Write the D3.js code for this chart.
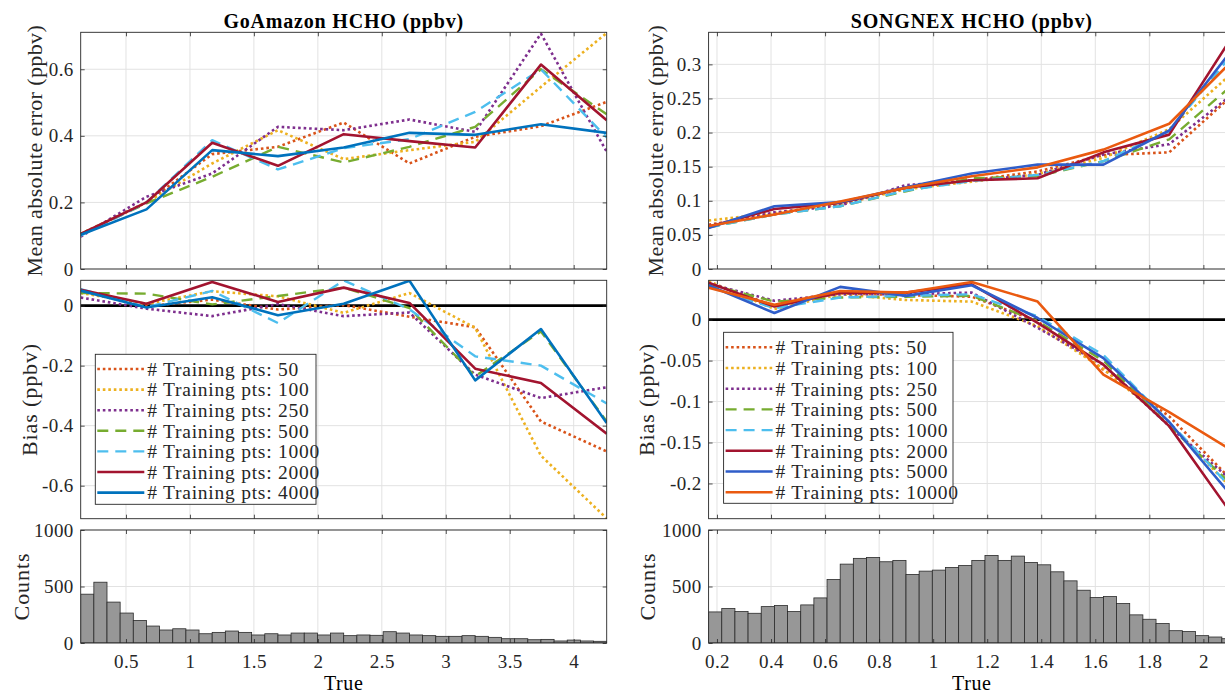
<!DOCTYPE html>
<html><head><meta charset="utf-8">
<script src="https://cdn.jsdelivr.net/npm/d3@7"></script>
<style>
body{margin:0;background:#fff}
svg{display:block}
svg text{font-family:"Liberation Serif","DejaVu Serif","Times New Roman",serif !important;}
</style>
</head><body>
<svg id="c" width="1225" height="693"></svg>
<script>
// ---------------- DATA ----------------
const xLeft  = [0.146, 0.660, 1.174, 1.688, 2.202, 2.716, 3.230, 3.744, 4.258];
const xRight = [0.169, 0.4125, 0.656, 0.8995, 1.143, 1.3865, 1.630, 1.8735, 2.117];

const namesLeft  = ["# Training pts: 50","# Training pts: 100","# Training pts: 250","# Training pts: 500","# Training pts: 1000","# Training pts: 2000","# Training pts: 4000"];
const namesRight = ["# Training pts: 50","# Training pts: 100","# Training pts: 250","# Training pts: 500","# Training pts: 1000","# Training pts: 2000","# Training pts: 5000","# Training pts: 10000"];

// GoAmazon mean absolute error
const maeL50   = [0.105, 0.200, 0.345, 0.367, 0.440, 0.317, 0.397, 0.429, 0.502];
const maeL100  = [0.105, 0.200, 0.317, 0.417, 0.330, 0.357, 0.382, 0.547, 0.709];
const maeL250  = [0.097, 0.217, 0.287, 0.427, 0.417, 0.449, 0.412, 0.707, 0.352];
const maeL500  = [0.105, 0.197, 0.277, 0.367, 0.320, 0.367, 0.427, 0.600, 0.465];
const maeL1000 = [0.100, 0.200, 0.387, 0.299, 0.363, 0.390, 0.472, 0.600, 0.395];
const maeL2000 = [0.105, 0.200, 0.379, 0.310, 0.405, 0.384, 0.365, 0.614, 0.447];
const maeL4000 = [0.103, 0.179, 0.357, 0.339, 0.365, 0.409, 0.403, 0.435, 0.409];

// GoAmazon bias
const biasL50   = [0.048, -0.002, 0.020, -0.013, 0.002, -0.037, -0.072, -0.386, -0.486];
const biasL100  = [0.042, 0.006, 0.048, 0.031, -0.024, 0.042, -0.074, -0.500, -0.709];
const biasL250  = [0.027, -0.010, -0.035, 0.005, -0.035, -0.023, -0.230, -0.308, -0.272];
const biasL500  = [0.042, 0.040, 0.004, 0.032, 0.060, -0.008, -0.235, -0.086, -0.386];
const biasL1000 = [0.055, -0.005, 0.049, -0.058, 0.084, -0.012, -0.169, -0.200, -0.326];
const biasL2000 = [0.053, 0.006, 0.079, 0.012, 0.060, 0.009, -0.210, -0.258, -0.427];
const biasL4000 = [0.050, -0.006, 0.028, -0.032, 0.006, 0.083, -0.249, -0.078, -0.391];

// SONGNEX mean absolute error
const maeR50    = [0.065, 0.080, 0.096, 0.118, 0.130, 0.143, 0.167, 0.171, 0.258];
const maeR100   = [0.071, 0.082, 0.095, 0.117, 0.128, 0.139, 0.163, 0.205, 0.291];
const maeR250   = [0.063, 0.083, 0.093, 0.123, 0.130, 0.138, 0.168, 0.183, 0.259];
const maeR500   = [0.061, 0.080, 0.092, 0.114, 0.133, 0.136, 0.158, 0.190, 0.273];
const maeR1000  = [0.061, 0.080, 0.092, 0.115, 0.129, 0.138, 0.158, 0.202, 0.320];
const maeR2000  = [0.062, 0.088, 0.097, 0.119, 0.130, 0.133, 0.171, 0.197, 0.347];
const maeR5000  = [0.060, 0.092, 0.098, 0.120, 0.140, 0.153, 0.153, 0.203, 0.327];
const maeR10000 = [0.063, 0.080, 0.099, 0.119, 0.136, 0.149, 0.175, 0.213, 0.309];

// SONGNEX bias
const biasR50    = [0.045, 0.017, 0.032, 0.030, 0.028, -0.002, -0.061, -0.118, -0.200];
const biasR100   = [0.047, 0.013, 0.031, 0.024, 0.022, -0.008, -0.060, -0.127, -0.210];
const biasR250   = [0.044, 0.023, 0.031, 0.031, 0.033, -0.010, -0.055, -0.130, -0.200];
const biasR500   = [0.043, 0.022, 0.027, 0.028, 0.029, -0.002, -0.050, -0.130, -0.205];
const biasR1000  = [0.040, 0.014, 0.027, 0.029, 0.031, 0.004, -0.043, -0.125, -0.210];
const biasR2000  = [0.045, 0.016, 0.033, 0.033, 0.043, -0.004, -0.055, -0.130, -0.243];
const biasR5000  = [0.042, 0.008, 0.040, 0.029, 0.042, 0.002, -0.047, -0.125, -0.220];
const biasR10000 = [0.039, 0.018, 0.035, 0.033, 0.046, 0.022, -0.067, -0.113, -0.162];

// Histograms (40 bins each)
const histL = [432,538,362,265,200,150,115,126,115,82,94,106,94,71,82,71,88,88,71,88,65,71,68,100,88,71,65,59,59,65,59,50,38,38,29,32,18,26,18,15];
const histLStart = 0.146, histLWidth = 0.1028;
const histR = [275,305,278,263,322,331,278,337,399,562,698,749,757,719,731,607,636,645,669,686,731,775,731,769,713,692,630,550,467,402,411,349,249,210,172,109,101,65,53,38];
const histRStart = 0.169, histRWidth = 0.0487;

// Axis ticks & limits
const xTicksL = [0.5, 1, 1.5, 2, 2.5, 3, 3.5, 4];
const xTicksR = [0.2, 0.4, 0.6, 0.8, 1, 1.2, 1.4, 1.6, 1.8, 2];
const yTicksMaeL = [0, 0.2, 0.4, 0.6], yDomMaeL = [0, 0.711];
const yTicksBiasL = [-0.6, -0.4, -0.2, 0], yDomBiasL = [-0.71, 0.0844];
const yTicksMaeR = [0, 0.05, 0.1, 0.15, 0.2, 0.25, 0.3], yDomMaeR = [0, 0.347];
const yTicksBiasR = [-0.2, -0.15, -0.1, -0.05, 0], yDomBiasR = [-0.243, 0.048];
const yTicksHist = [0, 500, 1000], yDomHist = [0, 1000];

// ---------------- STYLE ----------------
const FONT = '"Liberation Serif","DejaVu Serif",serif';
const AX = "#262626";
const styleL = [
  {c:"#D95319", t:"dot"}, {c:"#EDB120", t:"dot"}, {c:"#7E2F8E", t:"dot"},
  {c:"#77AC30", t:"dash"}, {c:"#4DBEEE", t:"dash"},
  {c:"#A2142F", t:"solid"}, {c:"#0072BD", t:"solid"}];
const styleR = [
  {c:"#D95319", t:"dot"}, {c:"#EDB120", t:"dot"}, {c:"#7E2F8E", t:"dot"},
  {c:"#77AC30", t:"dash"}, {c:"#4DBEEE", t:"dash"},
  {c:"#A2142F", t:"solid"}, {c:"#2F5DC9", t:"solid"}, {c:"#EA5A10", t:"solid"}];
function applyStyle(sel, s){
  sel.attr("stroke", s.c).attr("fill","none").attr("stroke-linejoin","round");
  if (s.t==="dot") sel.attr("stroke-width",2.6).attr("stroke-dasharray","2.6,2.9");
  else if (s.t==="dash") sel.attr("stroke-width",2.4).attr("stroke-dasharray","11,7");
  else sel.attr("stroke-width",2.6);
}

// ---------------- LAYOUT ----------------
const colL = {x0:80.7, x1:606.7, dom:[0.146, 4.258], ticks:xTicksL};
const colR = {x0:708.6, x1:1235, dom:[0.169, 2.117], ticks:xTicksR};
const rowTop = {y0:32.3, y1:269}, rowMid = {y0:280.3, y1:518.7}, rowBot = {y0:530, y1:643};

const svg = d3.select("#c");
const defs = svg.append("defs");
let clipN = 0;
const fmt = d => String(d);

function panel(col, row, yDom, yTicks){
  const x = d3.scaleLinear().domain(col.dom).range([col.x0, col.x1]);
  const y = d3.scaleLinear().domain(yDom).range([row.y1, row.y0]);
  const g = svg.append("g");
  const id = "clip" + (clipN++);
  defs.append("clipPath").attr("id", id).append("rect")
    .attr("x", col.x0).attr("y", row.y0).attr("width", col.x1 - col.x0).attr("height", row.y1 - row.y0);
  const grid = g.append("g").attr("stroke", "#e2e2e2").attr("stroke-width", 1);
  grid.selectAll(".gx").data(col.ticks).join("line")
    .attr("x1", d => x(d)).attr("x2", d => x(d)).attr("y1", row.y0).attr("y2", row.y1);
  grid.selectAll(".gy").data(yTicks).join("line")
    .attr("y1", d => y(d)).attr("y2", d => y(d)).attr("x1", col.x0).attr("x2", col.x1);
  const plot = g.append("g").attr("clip-path", `url(#${id})`);
  return {x, y, g, plot, col, row, yTicks};
}
function finish(p, showX){
  const {x, y, col, row, yTicks} = p;
  const ax = p.g.append("g");
  ax.append("g").attr("transform", `translate(${col.x0},0)`)
    .call(d3.axisLeft(y).tickValues(yTicks).tickFormat(fmt).tickSize(-4).tickPadding(7));
  ax.append("g").attr("transform", `translate(${col.x1},0)`)
    .call(d3.axisRight(y).tickValues(yTicks).tickFormat("").tickSize(-4));
  ax.append("g").attr("transform", `translate(0,${row.y1})`)
    .call(d3.axisBottom(x).tickValues(col.ticks).tickFormat(showX ? fmt : "").tickSize(-4).tickPadding(12));
  ax.append("g").attr("transform", `translate(0,${row.y0})`)
    .call(d3.axisTop(x).tickValues(col.ticks).tickFormat("").tickSize(-4));
  ax.selectAll(".domain").remove();
  ax.selectAll("g").attr("font-family", FONT);
  ax.selectAll(".tick line").attr("stroke", AX).attr("stroke-width", 0.8);
  ax.selectAll("text").style("font-family", FONT).style("font-size", "19px")
    .style("letter-spacing", "0.4px").attr("fill", AX);
  ax.append("rect").attr("x", col.x0).attr("y", row.y0).attr("width", col.x1 - col.x0)
    .attr("height", row.y1 - row.y0).attr("fill", "none").attr("stroke", AX).attr("stroke-width", 0.9);
}
function drawLines(p, xs, series, styles){
  const line = d3.line().x((d, i) => p.x(xs[i])).y(d => p.y(d));
  series.forEach((s, i) => {
    applyStyle(p.plot.append("path").attr("d", line(s)), styles[i]);
  });
}
function zeroLine(p){
  p.plot.append("line").attr("x1", p.col.x0).attr("x2", p.col.x1)
    .attr("y1", p.y(0)).attr("y2", p.y(0)).attr("stroke", "#000").attr("stroke-width", 2.6);
}
function hist(p, counts, start, w){
  p.plot.selectAll("rect.bar").data(counts).join("rect").attr("class", "bar")
    .attr("x", (d, i) => p.x(start + i * w))
    .attr("width", (d, i) => p.x(start + (i + 1) * w) - p.x(start + i * w))
    .attr("y", d => p.y(d)).attr("height", d => p.y(0) - p.y(d))
    .attr("fill", "#979797").attr("stroke", "#2a2a2a").attr("stroke-width", 0.8);
}
function legend(names, styles, bx, by, bw, bh, row0, dy){
  const g = svg.append("g");
  g.append("rect").attr("x", bx).attr("y", by).attr("width", bw).attr("height", bh)
    .attr("fill", "#fff").attr("stroke", AX).attr("stroke-width", 0.9);
  names.forEach((n, i) => {
    const yy = row0 + i * dy;
    applyStyle(g.append("line").attr("x1", bx + 2).attr("x2", bx + 49).attr("y1", yy).attr("y2", yy), styles[i]);
    g.append("text").attr("x", bx + 52).attr("y", yy).attr("dy", "0.35em")
      .style("font-family", FONT).style("font-size", "19.5px").style("letter-spacing", "0.75px")
      .attr("fill", AX).text(n);
  });
}
function ylabel(txt, cx, row, ls){
  svg.append("text").attr("transform", `translate(${cx},${(row.y0 + row.y1) / 2}) rotate(-90)`)
    .attr("text-anchor", "middle").attr("dy", "0.35em")
    .style("font-family", FONT).style("font-size", "22px").style("letter-spacing", (ls || 0.6) + "px")
    .attr("fill", AX).text(txt);
}
function text(txt, x, y, size, weight, ls){
  svg.append("text").attr("x", x).attr("y", y).attr("text-anchor", "middle")
    .style("font-family", FONT).style("font-size", size + "px").style("font-weight", weight || "normal")
    .style("letter-spacing", (ls || 0) + "px")
    .attr("fill", "#000").text(txt);
}

// ---------------- LEFT COLUMN ----------------
const pL1 = panel(colL, rowTop, yDomMaeL, yTicksMaeL);
drawLines(pL1, xLeft, [maeL50, maeL100, maeL250, maeL500, maeL1000, maeL2000, maeL4000], styleL);
finish(pL1, false);

const pL2 = panel(colL, rowMid, yDomBiasL, yTicksBiasL);
zeroLine(pL2);
drawLines(pL2, xLeft, [biasL50, biasL100, biasL250, biasL500, biasL1000, biasL2000, biasL4000], styleL);
finish(pL2, false);
legend(namesLeft, styleL, 95.3, 354.3, 220.7, 150, 369, 20.6);

const pL3 = panel(colL, rowBot, yDomHist, yTicksHist);
hist(pL3, histL, histLStart, histLWidth);
finish(pL3, true);

// ---------------- RIGHT COLUMN ----------------
const pR1 = panel(colR, rowTop, yDomMaeR, yTicksMaeR);
drawLines(pR1, xRight, [maeR50, maeR100, maeR250, maeR500, maeR1000, maeR2000, maeR5000, maeR10000], styleR);
finish(pR1, false);

const pR2 = panel(colR, rowMid, yDomBiasR, yTicksBiasR);
zeroLine(pR2);
drawLines(pR2, xRight, [biasR50, biasR100, biasR250, biasR500, biasR1000, biasR2000, biasR5000, biasR10000], styleR);
finish(pR2, false);
legend(namesRight, styleR, 723.6, 332.3, 229.4, 171, 347.3, 20.7);

const pR3 = panel(colR, rowBot, yDomHist, yTicksHist);
hist(pR3, histR, histRStart, histRWidth);
finish(pR3, true);

// ---------------- LABELS ----------------
text("GoAmazon HCHO (ppbv)", (colL.x0 + colL.x1) / 2, 27.5, 20, "bold", 0.8);
text("SONGNEX HCHO (ppbv)", (colR.x0 + colR.x1) / 2, 27.5, 20, "bold", 0.8);
text("True", (colL.x0 + colL.x1) / 2, 690, 20, "normal", 0.6);
text("True", (colR.x0 + colR.x1) / 2, 690, 20, "normal", 0.6);
ylabel("Mean absolute error (ppbv)", 34, rowTop, 0.4);
ylabel("Bias (ppbv)", 29, rowMid, 0.9);
ylabel("Counts", 21, rowBot, 0.9);
ylabel("Mean absolute error (ppbv)", 655, rowTop, 0.4);
ylabel("Bias (ppbv)", 646, rowMid, 0.9);
ylabel("Counts", 647, rowBot, 0.9);
</script>
</body></html>
